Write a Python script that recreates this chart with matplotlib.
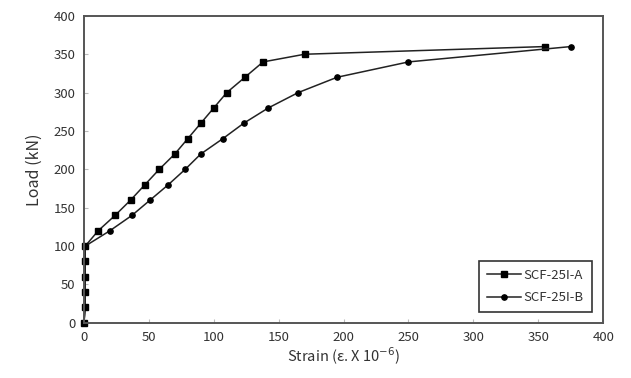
import matplotlib as mpl
import matplotlib.pyplot as plt

# SCF-25I-A (square markers)
strain_a = [0, 1, 1, 1, 1, 1, 11, 24, 36, 47, 58, 70, 80, 90, 100, 110, 124, 138, 170, 355]
load_a = [0, 20, 40, 60, 80, 100, 120, 140, 160, 180, 200, 220, 240, 260, 280, 300, 320, 340, 350, 360]

# SCF-25I-B (circle markers)
strain_b = [0, 1, 1, 1, 1, 1, 20, 37, 51, 65, 78, 90, 107, 123, 142, 165, 195, 250, 375]
load_b = [0, 20, 40, 60, 80, 100, 120, 140, 160, 180, 200, 220, 240, 260, 280, 300, 320, 340, 360]


def setup_style() -> None:
    mpl.rcParams.update(
        {
            "font.family": ["Noto Sans CJK KR", "DejaVu Sans"],
            "font.size": 9.5,
            "axes.unicode_minus": False,
            "figure.dpi": 100,
            "savefig.facecolor": "white",
        }
    )


def main() -> None:
    setup_style()
    fig = plt.figure(figsize=(6.31, 3.78))
    ax = fig.add_axes([0.133, 0.146, 0.823, 0.812])

    ax.plot(strain_a, load_a, color="#222222", lw=1.1, marker="s", ms=3.8,
            mfc="black", mec="black", label="SCF-25I-A", clip_on=False)
    ax.plot(strain_b, load_b, color="#222222", lw=1.1, marker="o", ms=3.8,
            mfc="black", mec="black", label="SCF-25I-B", clip_on=False)

    ax.set_xlim(0, 400)
    ax.set_ylim(0, 400)
    ax.set_xticks(range(0, 401, 50))
    ax.set_yticks(range(0, 401, 50))
    ax.tick_params(direction="in", length=3, width=0.8, color="#bbbbbb",
                   labelcolor="#333333", labelsize=9.5, pad=6)
    for sp in ax.spines.values():
        sp.set_color("#555555")
        sp.set_linewidth(1.4)

    ax.set_xlabel("Strain (ε. X 10$^{-6}$)", fontsize=10.5, color="#333333", labelpad=1)
    ax.set_ylabel("Load (kN)", fontsize=11.5, color="#333333", labelpad=8)

    leg = ax.legend(loc="lower right", bbox_to_anchor=(0.978, 0.034), borderaxespad=0,
                    fancybox=False, edgecolor="#333333", framealpha=1, fontsize=9.5,
                    handlelength=2.6, labelspacing=0.75, borderpad=0.6,
                    handletextpad=0.2)
    leg.get_frame().set_linewidth(1.2)
    for t in leg.get_texts():
        t.set_color("#333333")

    fig.savefig("out.png", dpi=100)
    plt.close(fig)


if __name__ == "__main__":
    main()
